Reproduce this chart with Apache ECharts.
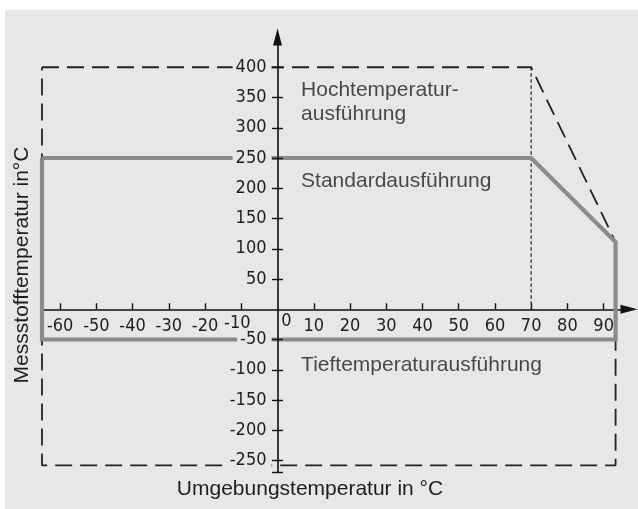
<!DOCTYPE html>
<html>
<head>
<meta charset="utf-8">
<script src="https://cdn.jsdelivr.net/npm/echarts@6/dist/echarts.min.js"></script>
<style>
html,body{margin:0;padding:0;background:#ffffff;}
#chart{width:638px;height:509px;}
</style>
</head>
<body>
<div id="chart"></div>
<script>
// Ticks and labels
var xTicks = [-60, -50, -40, -30, -20, -10, 10, 20, 30, 40, 50, 60, 70, 80, 90];
var xLabels = [-60, -50, -40, -30, -20, -10, 0, 10, 20, 30, 40, 50, 60, 70, 80, 90];
var yLabels = [-250, -200, -150, -100, -50, 50, 100, 150, 200, 250, 300, 350, 400];
var yTicks = [-269, -250, -200, -150, -100, -50, 50, 100, 150, 200, 250, 300, 350, 400];

// Operating envelopes (Umgebungstemperatur, Messstofftemperatur)
var hochtemperatur = [[-65, 400], [70, 400], [93.3, 111], [93.3, -258], [-65, -258], [-65, 400]];
var standardTief = [[-65, 250], [70, 250], [93.3, 111], [93.3, -50], [-65, -50], [-65, 250]];
var grenze70 = [[70, 400], [70, 0]];

// Region captions
var captions = [
  {name: 'Hochtemperatur-\nausführung', value: [6.5, 342]},
  {name: 'Standardausführung', value: [6.5, 212]},
  {name: 'Tieftemperaturausführung', value: [6.5, -93]}
];

var xMin = -65, xMax = 97, yMin = -269, yMax = 450;
var gridLeft = 42, gridTop = 37, gridW = 587, gridH = 435;
// axes cross at the origin: shift them from the grid edges to value 0
var yAxisOffset = -(0 - xMin) / (xMax - xMin) * gridW;
var xAxisOffset = -(0 - yMin) / (yMax - yMin) * gridH;

var tickFont = "'DejaVu Sans Condensed','Liberation Sans Narrow','Roboto',sans-serif";
var textFont = "'Liberation Sans','Arial',sans-serif";
var bg = '#e6e7e9';
var ink = '#1e1e1e';

var chart = echarts.init(document.getElementById('chart'));
chart.setOption({
  animation: false,
  backgroundColor: '#ffffff',
  graphic: [
    {type: 'rect', z: -10, shape: {x: 5, y: 10, width: 633, height: 499}, style: {fill: bg}},
    {type: 'text', z: 5, x: 22.6, y: 265, rotation: Math.PI / 2,
      style: {text: 'Messstofftemperatur in°C', font: '21px ' + textFont, fill: ink, align: 'center', verticalAlign: 'middle'}},
    {type: 'text', z: 5, x: 310, y: 489.5,
      style: {text: 'Umgebungstemperatur in °C', font: '21px ' + textFont, fill: ink, align: 'center', verticalAlign: 'middle'}}
  ],
  grid: {left: gridLeft, top: gridTop, width: gridW, height: gridH, containLabel: false, outerBoundsMode: 'none'},
  xAxis: {
    type: 'value', min: xMin, max: xMax, position: 'bottom', offset: xAxisOffset,
    splitLine: {show: false},
    axisLine: {onZero: false, symbol: ['none', 'triangle'], symbolSize: [9, 17], lineStyle: {color: '#111', width: 1.6}},
    axisTick: {show: true, inside: true, length: 6, customValues: xTicks, lineStyle: {color: '#111', width: 1.4}},
    axisLabel: {
      show: true, customValues: xLabels, margin: 3, color: ink,
      fontFamily: tickFont, fontSize: 18,
      formatter: function (v) {
        if (v === 0) return '{z|0}';
        if (v === -10) return '{m|-10}';
        return '{a|' + v + '}';
      },
      rich: {
        a: {padding: [5, 0, 0, 0], fontFamily: tickFont, fontSize: 18, color: ink},
        z: {padding: [0, 0, 0, 18], fontFamily: tickFont, fontSize: 18, color: ink},
        m: {padding: [2, 8, 0, 0], fontFamily: tickFont, fontSize: 18, color: ink}
      }
    }
  },
  yAxis: [
    {
      type: 'value', min: yMin, max: yMax, position: 'left', offset: yAxisOffset, z: 3,
      splitLine: {show: false},
      axisLine: {onZero: false, symbol: ['none', 'triangle'], symbolSize: [9, 17], lineStyle: {color: '#111', width: 1.6}},
      axisTick: {show: true, inside: false, length: 5.5, customValues: yTicks, lineStyle: {color: '#111', width: 1.4}},
      axisLabel: {show: true, customValues: yLabels, margin: 6, color: ink, fontFamily: tickFont, fontSize: 18,
        backgroundColor: bg, padding: [0, 5, 0, 3]}
    },
    {
      type: 'value', min: yMin, max: yMax, position: 'left', offset: yAxisOffset, z: 3,
      splitLine: {show: false},
      axisLine: {show: false, onZero: false},
      axisTick: {show: true, inside: true, length: 5.5, customValues: yTicks, lineStyle: {color: '#111', width: 1.4}},
      axisLabel: {show: false}
    }
  ],
  series: [
    {
      name: 'Hochtemperaturausführung', type: 'line', data: hochtemperatur, symbol: 'none', z: 1,
      lineStyle: {color: '#222', width: 1.8, type: [17, 8]}
    },
    {
      name: '70 °C', type: 'line', data: grenze70, symbol: 'none', z: 1,
      lineStyle: {color: '#222', width: 1.2, type: [3.5, 2.5]}
    },
    {
      name: 'Standard / Tieftemperaturausführung', type: 'line', data: standardTief, symbol: 'none', z: 2,
      lineStyle: {color: '#8b8b8b', width: 4.2, join: 'miter'}
    },
    {
      name: 'Beschriftung', type: 'scatter', data: captions, symbolSize: 0, z: 4, silent: true,
      label: {show: true, position: 'right', distance: 0, formatter: '{b}', color: ink,
        fontFamily: textFont, fontSize: 21, lineHeight: 24.5, align: 'left'}
    }
  ]
});
</script>
</body>
</html>
